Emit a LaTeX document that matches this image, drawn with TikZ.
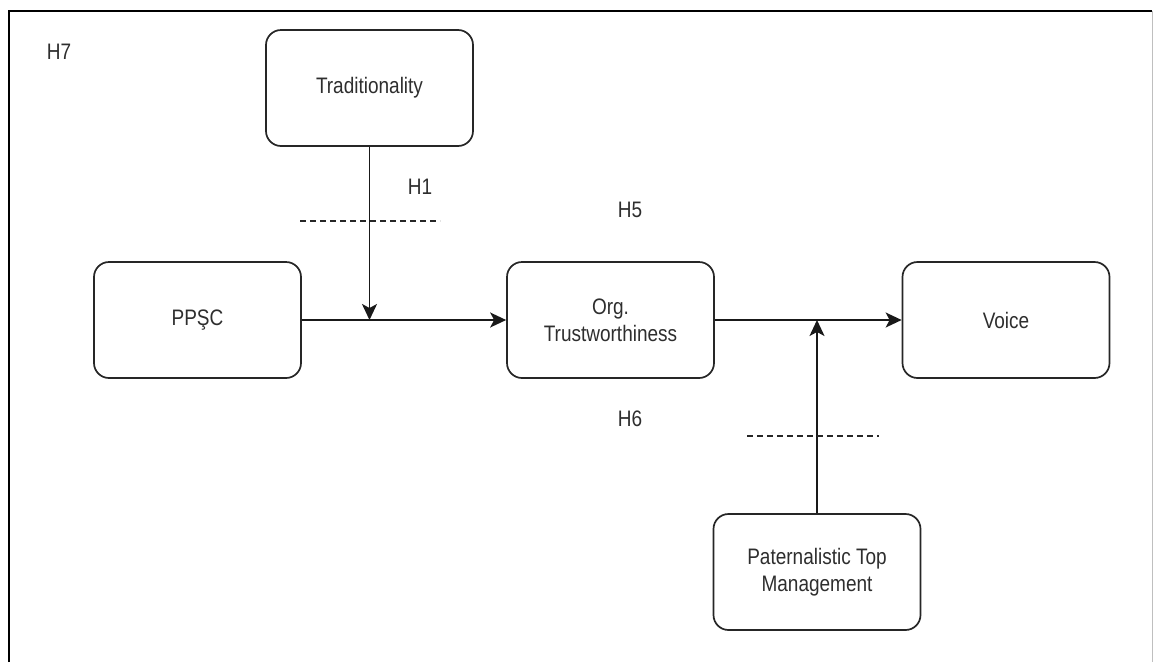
\documentclass[tikz,border=0pt]{standalone}
\usepackage{fontspec}
\setmainfont{Liberation Sans}
\usetikzlibrary{arrows.meta}
\definecolor{txt}{HTML}{2E2E2E}
\newcommand{\tallt}[1]{\scalebox{0.95}[1.12]{#1}}
\tikzset{
  box/.style={draw=black!85, line width=1.7pt, rounded corners=15pt, minimum width=207pt, minimum height=116pt, align=center, text=txt, font=\fontsize{20}{27}\selectfont, inner sep=0pt},
  lbl/.style={text=txt, font=\fontsize{20}{27}\selectfont, inner sep=0pt},
  conn/.style={draw=black!90, line width=1.7pt},
  arr/.style={conn, -{Stealth[length=16pt,width=15pt,inset=4pt]}},
  dsh/.style={draw=black!85, line width=1.3pt, dash pattern=on 6pt off 4pt}
}
\begin{document}
\begin{tikzpicture}[x=1pt,y=-1pt]
\useasboundingbox (0,0) rectangle (1157,662);
\fill[white] (0,0) rectangle (1157,662);
% frame
\draw[black, line width=2.2pt] (9,662) -- (9,11) -- (1152,11);
\draw[black!25, line width=1pt] (1152,11) -- (1152,662);
% nodes
\node[box] (trad) at (369.5,88) {\tallt{Traditionality}};
\node[box] (ppsc) at (197.5,320) {\tallt{PPŞC}};
\node[box] (org) at (610.5,320) {\tallt{Org.}\\\tallt{Trustworthiness}};
\node[box] (voice) at (1006,320) {\tallt{Voice}};
\node[box] (pat) at (817,572) {\tallt{Paternalistic Top}\\\tallt{Management}};
% labels
\node[lbl] (h7) at (59,52) {\tallt{H7}};
\node[lbl] (h1) at (420,187) {\tallt{H1}};
\node[lbl] (h5) at (630,210) {\tallt{H5}};
\node[lbl] (h6) at (630,419) {\tallt{H6}};
% connectors
\coordinate (m1) at (trad.south |- ppsc.east);
\coordinate (m2) at (pat.north |- org.east);
\draw[arr] (ppsc.east) -- (org.west);
\draw[arr] (trad.south) -- (m1);
\draw[arr] (org.east) -- (voice.west);
\draw[arr] (pat.north) -- (m2);
% dashed lines
\coordinate (d1a) at (300,221);
\coordinate (d1b) at (440,221);
\coordinate (d2a) at (747,436);
\coordinate (d2b) at (879,436);
\draw[dsh] (d1a) -- (d1b);
\draw[dsh] (d2a) -- (d2b);
\end{tikzpicture}
\end{document}
